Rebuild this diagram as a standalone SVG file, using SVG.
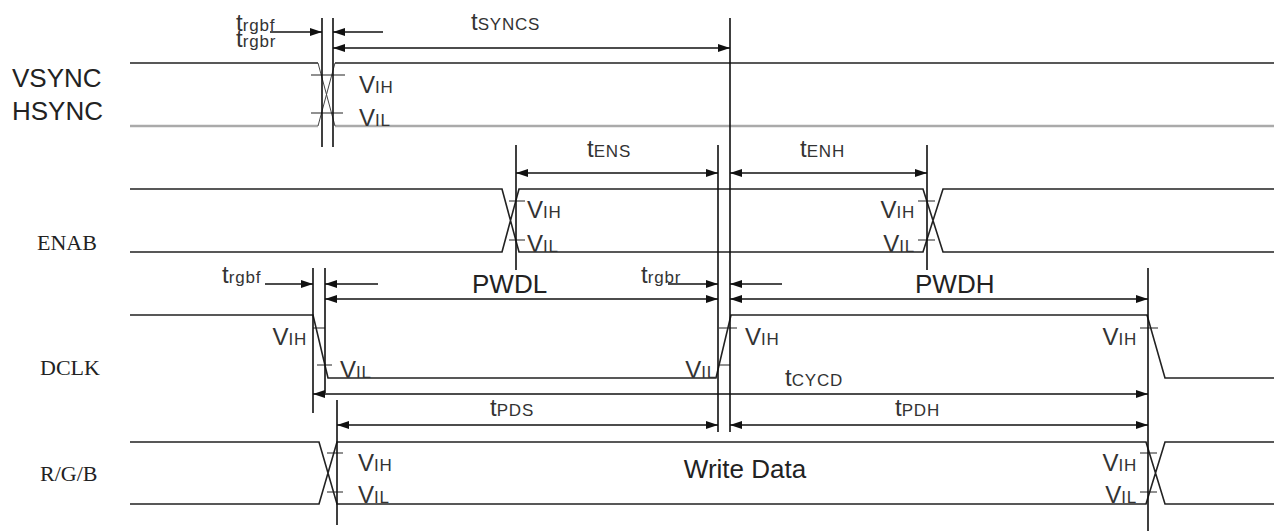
<svg xmlns="http://www.w3.org/2000/svg" width="1274" height="531" viewBox="0 0 1274 531">
<style>
.w{fill:none;stroke:#222;stroke-width:1.6}
.x{fill:none;stroke:#444;stroke-width:1}
.g{fill:none;stroke:#aaa;stroke-width:2.6}
.v{fill:none;stroke:#111;stroke-width:1.6}
.t{fill:none;stroke:#222;stroke-width:1.2}
.a{fill:none;stroke:#111;stroke-width:1.6}
.lab{font-family:"Liberation Sans",Arial,sans-serif;font-size:26px;fill:#222}
.sig{font-family:"Liberation Serif","Times New Roman",serif;font-size:22px;fill:#222}
.big{font-family:"Liberation Sans",Arial,sans-serif;font-size:24px;fill:#333}
.sub{font-size:17px;letter-spacing:0.8px}
</style>
<defs>
<marker id="ah" viewBox="0 0 12 8" refX="12" refY="4" markerWidth="12" markerHeight="8" markerUnits="userSpaceOnUse" orient="auto-start-reverse">
<path d="M0,0 L12,4 L0,8 z" fill="#111"/>
</marker>
</defs>
<rect width="1274" height="531" fill="#fff"/>

<g id="sync">
<text class="lab" x="12" y="87">VSYNC</text>
<text class="lab" x="12" y="120">HSYNC</text>
<path class="w" d="M130,63 H318 M335,63 H1274"/>
<path class="g" d="M130,126 H318 M335,126 H1274"/>
<path class="x" d="M318,63 L335,126 M335,63 L318,126"/>
<path class="t" d="M311,75 H345 M311,113 H343"/>
<text class="big" x="359" y="93">V<tspan class="sub">IH</tspan></text>
<text class="big" x="359" y="126">V<tspan class="sub">IL</tspan></text>
</g>

<g id="enab">
<text class="sig" x="37" y="250">ENAB</text>
<path class="w" d="M130,189 H502 L519,252 H923 L943,189 H1274 M130,252 H502 L519,189 H923 L943,252 H1274"/>
<path class="t" d="M509,201 H525 M509,240 H525 M918,201 H935 M918,240 H935"/>
<text class="big" x="527" y="218">V<tspan class="sub">IH</tspan></text>
<text class="big" x="527" y="252">V<tspan class="sub">IL</tspan></text>
<text class="big" x="915" y="218" text-anchor="end">V<tspan class="sub">IH</tspan></text>
<text class="big" x="915" y="252" text-anchor="end">V<tspan class="sub">IL</tspan></text>
</g>

<g id="dclk">
<text class="sig" x="40" y="375">DCLK</text>
<path class="w" d="M130,315 H313 L328,378 H716 L731,315 H1147 L1165,378 H1274"/>
<path class="t" d="M313,328 H325 M317,365 H332 M719,328 H737 M719,365 H730 M1140,328 H1158"/>
<text class="big" x="307" y="345" text-anchor="end">V<tspan class="sub">IH</tspan></text>
<text class="big" x="340" y="378">V<tspan class="sub">IL</tspan></text>
<text class="big" x="745" y="345">V<tspan class="sub">IH</tspan></text>
<text class="big" x="717" y="378" text-anchor="end">V<tspan class="sub">IL</tspan></text>
<text class="big" x="1137" y="345" text-anchor="end">V<tspan class="sub">IH</tspan></text>
</g>

<g id="rgb">
<text class="sig" x="40" y="481">R/G/B</text>
<path class="w" d="M130,442 H319 L337,504 H1146 L1165,442 H1274 M130,504 H319 L337,442 H1146 L1165,504 H1274"/>
<path class="t" d="M327,453 H343 M327,492 H343 M1140,453 H1157 M1140,492 H1157"/>
<text class="big" x="358" y="471">V<tspan class="sub">IH</tspan></text>
<text class="big" x="358" y="503">V<tspan class="sub">IL</tspan></text>
<text class="big" x="1137" y="471" text-anchor="end">V<tspan class="sub">IH</tspan></text>
<text class="big" x="1137" y="503" text-anchor="end">V<tspan class="sub">IL</tspan></text>
<text class="lab" x="745" y="478" text-anchor="middle" font-size="24">Write Data</text>
</g>

<g id="connectors">
<path class="v" d="M322,18 V147 M333,18 V147 M730,18 V432 M718,145 V432 M516,145 V270 M927,145 V270 M313,268 V413 M325,268 V393 M1148,268 V531 M337,400 V525"/>
<line class="a" x1="270" y1="32" x2="322" y2="32" marker-end="url(#ah)"/>
<line class="a" x1="383" y1="32" x2="333" y2="32" marker-end="url(#ah)"/>
<line class="a" x1="333" y1="48" x2="730" y2="48" marker-start="url(#ah)" marker-end="url(#ah)"/>
<line class="a" x1="516" y1="173" x2="718" y2="173" marker-start="url(#ah)" marker-end="url(#ah)"/>
<line class="a" x1="730" y1="173" x2="927" y2="173" marker-start="url(#ah)" marker-end="url(#ah)"/>
<line class="a" x1="265" y1="284" x2="313" y2="284" marker-end="url(#ah)"/>
<line class="a" x1="378" y1="284" x2="325" y2="284" marker-end="url(#ah)"/>
<line class="a" x1="325" y1="299" x2="718" y2="299" marker-start="url(#ah)" marker-end="url(#ah)"/>
<line class="a" x1="668" y1="284" x2="718" y2="284" marker-end="url(#ah)"/>
<line class="a" x1="782" y1="284" x2="730" y2="284" marker-end="url(#ah)"/>
<line class="a" x1="730" y1="299" x2="1148" y2="299" marker-start="url(#ah)" marker-end="url(#ah)"/>
<line class="a" x1="313" y1="394" x2="1148" y2="394" marker-start="url(#ah)" marker-end="url(#ah)"/>
<line class="a" x1="337" y1="425" x2="718" y2="425" marker-start="url(#ah)" marker-end="url(#ah)"/>
<line class="a" x1="730" y1="425" x2="1148" y2="425" marker-start="url(#ah)" marker-end="url(#ah)"/>
<text class="big" x="236" y="31">t<tspan class="sub">rgbf</tspan></text>
<text class="big" x="236" y="47">t<tspan class="sub">rgbr</tspan></text>
<text class="big" x="471" y="30">t<tspan class="sub">SYNCS</tspan></text>
<text class="big" x="587" y="157">t<tspan class="sub">ENS</tspan></text>
<text class="big" x="800" y="157">t<tspan class="sub">ENH</tspan></text>
<text class="big" x="222" y="283">t<tspan class="sub">rgbf</tspan></text>
<text class="big" x="641" y="283">t<tspan class="sub">rgbr</tspan></text>
<text class="lab" x="472" y="293">PWDL</text>
<text class="lab" x="915" y="293">PWDH</text>
<text class="big" x="785" y="386">t<tspan class="sub">CYCD</tspan></text>
<text class="big" x="490" y="416">t<tspan class="sub">PDS</tspan></text>
<text class="big" x="895" y="416">t<tspan class="sub">PDH</tspan></text>
</g>
</svg>
